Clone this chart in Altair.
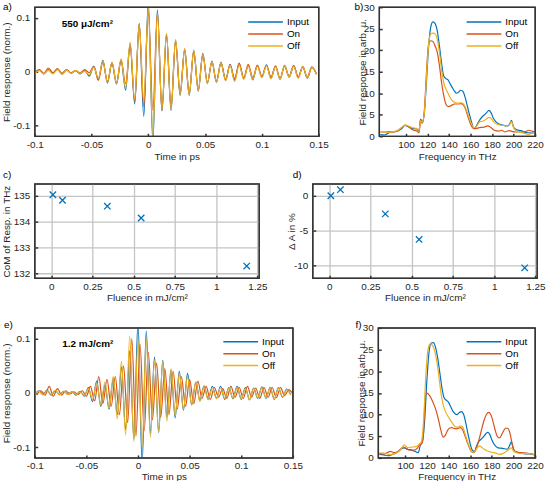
import altair as alt
import pandas as pd

FONT = "Liberation Sans"
FS = 10
INK = "#262626"
SERIES = ["Input", "On", "Off"]
COLORS = ["#0072BD", "#D95319", "#EDB120"]
LABEL_EXPR = "replace(format(datum.value, '~g'), '\u2212', '-')"

t_grid = [-0.100, -0.096, -0.092, -0.088, -0.084, -0.080, -0.076, -0.072, -0.068, -0.064,
          -0.060, -0.056, -0.052, -0.048, -0.044, -0.040, -0.036, -0.032, -0.028, -0.024,
          -0.020, -0.016, -0.012, -0.008, -0.004, 0.000, 0.004, 0.008, 0.012, 0.016,
          0.020, 0.024, 0.028, 0.032, 0.036, 0.040, 0.044, 0.048, 0.052, 0.056,
          0.060, 0.064, 0.068, 0.072, 0.076, 0.080, 0.084, 0.088, 0.092, 0.096,
          0.100, 0.104, 0.108, 0.112, 0.116, 0.120, 0.124, 0.128, 0.132, 0.136,
          0.140, 0.144, 0.148]
a_input = [-0.002, 0.003, -0.004, 0.004, -0.003, 0.005, -0.004, 0.003, -0.002, 0.002,
           -0.004, 0.002, -0.008, 0.010, -0.014, 0.021, -0.021, 0.017, -0.023, 0.021,
           -0.034, 0.052, -0.060, 0.090, -0.083, 0.130, -0.130, 0.115, -0.073, 0.070,
           -0.072, 0.059, -0.044, 0.042, -0.044, 0.040, -0.036, 0.034, -0.022, 0.020,
           -0.020, 0.018, -0.016, 0.014, -0.016, 0.015, -0.013, 0.012, -0.015, 0.012,
           -0.010, 0.013, -0.012, 0.010, -0.014, 0.012, -0.010, 0.011, -0.011, 0.010,
           -0.012, 0.008, -0.004]
a_on = [-0.002, 0.004, -0.003, 0.007, -0.002, 0.006, -0.003, 0.004, -0.003, 0.002,
        -0.002, 0.004, -0.002, 0.010, -0.016, 0.018, -0.018, 0.016, -0.020, 0.022,
        -0.022, 0.048, -0.055, 0.088, -0.065, 0.112, -0.072, 0.110, -0.072, 0.068,
        -0.066, 0.056, -0.040, 0.040, -0.041, 0.037, -0.033, 0.031, -0.020, 0.018,
        -0.017, 0.016, -0.014, 0.013, -0.013, 0.016, -0.012, 0.014, -0.011, 0.012,
        -0.009, 0.012, -0.010, 0.011, -0.012, 0.010, -0.009, 0.012, -0.010, 0.009,
        -0.010, 0.009, -0.004]
a_off = [-0.003, 0.002, -0.004, 0.003, -0.004, 0.004, -0.005, 0.003, -0.003, 0.002,
         -0.003, 0.001, -0.006, 0.008, -0.012, 0.020, -0.020, 0.018, -0.022, 0.024,
         -0.030, 0.055, -0.052, 0.088, -0.055, 0.118, -0.118, 0.108, -0.070, 0.072,
         -0.070, 0.060, -0.042, 0.043, -0.043, 0.040, -0.035, 0.033, -0.021, 0.019,
         -0.019, 0.017, -0.017, 0.012, -0.018, 0.013, -0.014, 0.011, -0.014, 0.010,
         -0.011, 0.011, -0.013, 0.009, -0.013, 0.011, -0.010, 0.010, -0.012, 0.010,
         -0.011, 0.008, -0.005]
t_on_e = [-0.098, -0.094, -0.090, -0.086, -0.082, -0.078, -0.074, -0.070, -0.066, -0.062,
          -0.058, -0.054, -0.050, -0.046, -0.042, -0.038, -0.034, -0.030, -0.026, -0.022,
          -0.018, -0.014, -0.010, -0.006, -0.002, 0.002, 0.006, 0.010, 0.014, 0.018,
          0.022, 0.026, 0.030, 0.034, 0.038, 0.042, 0.046, 0.050, 0.054, 0.058,
          0.062, 0.066, 0.070, 0.074, 0.078, 0.082, 0.086, 0.090, 0.094, 0.098,
          0.102, 0.106, 0.110, 0.114, 0.118, 0.122, 0.126, 0.130, 0.134, 0.138,
          0.142, 0.146, 0.150]
e_input = [-0.003, 0.004, -0.003, 0.005, -0.004, 0.004, -0.003, 0.003, -0.002, 0.002,
           -0.004, 0.003, -0.006, 0.010, -0.016, 0.022, -0.025, 0.015, -0.030, 0.026,
           -0.040, 0.048, -0.068, 0.078, -0.085, 0.130, -0.130, 0.114, -0.075, 0.066,
           -0.073, 0.060, -0.045, 0.042, -0.046, 0.040, -0.032, 0.036, -0.022, 0.020,
           -0.014, 0.013, -0.012, 0.012, -0.010, 0.012, -0.012, 0.010, -0.011, 0.012,
           -0.012, 0.010, -0.013, 0.009, -0.010, 0.011, -0.010, 0.010, -0.012, 0.010,
           -0.008, 0.007, -0.004]
e_on = [-0.003, 0.004, -0.004, 0.012, -0.006, 0.008, -0.004, 0.004, -0.002, 0.002,
        -0.003, 0.004, -0.006, 0.012, -0.015, 0.030, -0.020, 0.025, -0.025, 0.030,
        -0.040, 0.050, -0.055, 0.100, -0.080, 0.090, -0.070, 0.075, -0.050, 0.055,
        -0.045, 0.045, -0.040, 0.040, -0.030, 0.030, -0.025, 0.025, -0.020, 0.022,
        -0.010, 0.012, -0.012, 0.010, -0.008, 0.008, -0.010, 0.012, -0.008, 0.010,
        -0.010, 0.012, -0.008, 0.009, -0.010, 0.010, -0.008, 0.010, -0.009, 0.010,
        -0.005, 0.006, -0.002]
e_off = [-0.004, 0.003, -0.004, 0.004, -0.003, 0.005, -0.004, 0.003, -0.003, 0.002,
         -0.003, 0.002, -0.005, 0.008, -0.012, 0.018, -0.022, 0.020, -0.028, 0.030,
         -0.048, 0.058, -0.078, 0.105, -0.090, 0.098, -0.100, 0.100, -0.082, 0.060,
         -0.072, 0.058, -0.052, 0.045, -0.042, 0.036, -0.030, 0.030, -0.022, 0.020,
         -0.016, 0.012, -0.013, 0.010, -0.011, 0.010, -0.010, 0.009, -0.010, 0.010,
         -0.011, 0.008, -0.012, 0.008, -0.009, 0.010, -0.009, 0.009, -0.011, 0.009,
         -0.007, 0.006, -0.004]

b_in_f = [76, 80, 84, 88, 92, 96, 99, 102, 106, 110, 112, 113.5, 115, 117, 119, 121, 123, 125,
          127, 129, 131, 133, 135, 137, 139, 141, 143, 145, 147, 149, 151, 153, 155, 157, 159,
          161, 163, 165, 167, 169, 171, 173, 175, 177, 179, 181, 183, 186, 190, 194, 196, 198,
          200, 203, 207, 211, 215, 220]
b_in_v = [0.4, 0.3, 0.8, 1.0, 1.2, 1.8, 2.5, 2.2, 1.8, 1.7, 1.3, 4.0, 3.2, 5.5, 13, 21, 25.5, 26.6,
          26.2, 24.5, 21, 17, 14, 13.4, 13.1, 12.2, 11.3, 10.5, 10.0, 10.3, 10.7, 10.4, 9.0, 7.0,
          5.0, 3.2, 1.9, 2.2, 3.2, 4.0, 4.6, 5.0, 5.5, 6.0, 5.5, 4.3, 3.5, 2.9, 2.6, 2.4, 2.7, 3.7,
          2.1, 1.5, 1.3, 0.9, 0.8, 0.7]
b_on_f = [76, 80, 84, 88, 92, 96, 99, 102, 106, 110, 112, 113.5, 115, 117, 119, 121, 123, 125,
          127, 129, 131, 133, 135, 137, 139, 141, 143, 145, 147, 149, 151, 153, 155, 157, 159,
          161, 163, 165, 168, 172, 176, 178, 180, 183, 186, 189, 192, 196, 199, 203, 207, 211,
          214, 217, 220]
b_on_v = [1.0, 1.0, 1.1, 1.0, 1.3, 2.0, 2.6, 2.3, 1.5, 1.2, 0.8, 3.8, 3.0, 6, 15, 21.5, 22.2, 22.0,
          21.0, 19.5, 16.5, 12.5, 9.5, 7.5, 6.9, 7.0, 7.3, 7.5, 7.5, 7.5, 7.6, 7.4, 6.5, 5.0, 3.5,
          2.3, 1.8, 1.8, 2.0, 2.1, 2.4, 2.2, 1.8, 1.3, 1.2, 1.4, 1.0, 1.3, 1.1, 1.0, 1.0, 1.1,
          1.4, 1.2, 1.0]
b_off_f = [76, 80, 84, 88, 92, 96, 99, 102, 106, 110, 112, 113.5, 115, 117, 119, 121, 123, 125,
           127, 129, 131, 133, 135, 137, 139, 141, 143, 145, 147, 149, 151, 153, 155, 157, 159,
           161, 163, 165, 167, 169, 171, 173, 175, 177, 179, 181, 183, 186, 190, 194, 196, 198,
           200, 203, 207, 211, 214, 217, 220]
b_off_v = [1.0, 1.0, 0.9, 1.1, 1.3, 2.1, 2.6, 2.4, 2.0, 1.8, 1.4, 3.6, 3.3, 5.5, 14, 21.5, 23.8,
           24.0, 23.8, 22.5, 19.5, 15.5, 12.5, 11.0, 10.0, 9.0, 8.3, 7.9, 7.7, 7.7, 7.8, 7.6, 6.8,
           5.5, 4.0, 2.8, 2.0, 2.1, 2.9, 3.4, 3.5, 3.7, 4.1, 4.4, 4.2, 3.5, 3.0, 2.7, 2.5, 2.4,
           2.6, 3.4, 2.0, 1.2, 0.9, 0.6, 0.4, 0.7, 0.6]

f_in_f = [76, 80, 84, 88, 92, 96, 99, 102, 106, 110, 112, 114, 116, 118, 120, 122, 124, 126, 128,
          130, 132, 134, 136, 138, 140, 142, 144, 146, 148, 150, 152, 154, 156, 158, 160, 162,
          164, 166, 168, 170, 172, 174, 176, 178, 180, 182, 184, 186, 190, 194, 196, 198, 200,
          202, 206, 210, 215, 220]
f_in_v = [0.8, 0.7, 0.5, 0.8, 1.2, 2.0, 2.3, 2.0, 1.8, 1.4, 1.2, 3.0, 4.0, 9, 18, 24.5, 26.5, 26.6,
          25.5, 23, 19.5, 16, 13.8, 13.3, 12.8, 11.8, 10.8, 10.2, 10.0, 10.5, 10.7, 10.0, 8.0,
          5.5, 3.3, 1.8, 1.5, 2.8, 3.8, 4.3, 4.8, 5.4, 5.9, 5.5, 4.2, 3.2, 2.6, 2.3, 2.2, 2.0,
          2.6, 3.7, 2.0, 1.4, 1.2, 1.0, 0.9, 0.7]
f_on_f = [76, 80, 83, 86, 90, 94, 98, 101, 104, 108, 111, 113, 115, 116.5, 118, 119.5, 121, 123,
          125, 127, 129, 131, 133, 135, 137, 139, 141, 143, 145, 147, 149, 151, 153, 155, 157,
          159, 161, 163, 165, 167, 169, 171, 173, 175, 177, 179, 181, 183, 185, 187, 189, 191,
          193, 195, 197, 199, 201, 204, 208, 212, 216, 220]
f_on_v = [1.0, 0.9, 1.2, 1.5, 1.2, 1.6, 2.5, 2.2, 1.8, 1.8, 2.2, 3.0, 3.2, 4.5, 12, 15.0, 14.8,
          14.2, 13.2, 12.0, 10.5, 8.5, 6.3, 4.8, 5.2, 6.3, 6.9, 7.0, 6.8, 6.7, 6.8, 7.0, 6.5, 5.2,
          3.8, 2.5, 1.5, 1.2, 1.8, 3.2, 5.0, 7.0, 8.8, 10.0, 10.5, 10.0, 8.5, 6.5, 5.0, 4.6, 5.3,
          6.3, 6.9, 6.8, 5.5, 3.0, 1.6, 1.3, 1.2, 1.1, 1.0, 0.6]
f_off_f = [76, 80, 83, 86, 90, 94, 97, 99, 102, 106, 110, 113, 115, 117, 119, 121, 123, 125, 127,
           129, 131, 133, 135, 137, 139, 141, 143, 145, 147, 149, 151, 153, 155, 157, 159, 161,
           163, 165, 167, 169, 171, 173, 176, 180, 184, 187, 190, 193, 196, 198, 200, 203, 208,
           213, 217, 220]
f_off_v = [1.2, 1.1, 1.0, 0.7, 1.0, 1.5, 2.3, 3.0, 2.4, 2.5, 2.6, 3.2, 3.8, 9, 19, 25, 26.3, 26.0,
           24.8, 22.5, 19.0, 15.0, 12.3, 10.8, 9.8, 9.0, 8.2, 7.5, 7.1, 7.1, 7.4, 7.2, 5.8, 4.2,
           2.8, 1.6, 1.3, 1.7, 2.5, 2.8, 2.4, 2.0, 1.6, 1.3, 1.1, 0.8, 1.0, 1.4, 2.0, 2.3, 1.6,
           1.2, 1.0, 1.0, 0.9, 0.7]

fluence = [0.01, 0.068, 0.34, 0.545, 1.185]
com_thz = [135.03, 134.82, 134.59, 134.13, 132.27]
delta_a = [0.0, 0.87, -2.62, -6.3, -10.4]

TIME_TICKS = [-0.1, -0.05, 0, 0.05, 0.1, 0.15]
FIELD_TICKS = [-0.1, -0.05, 0, 0.05, 0.1]
FREQ_TICKS = [100, 120, 140, 160, 180, 200, 220]
SPEC_TICKS = [0, 5, 10, 15, 20, 25, 30]
FLU_TICKS = [0, 0.25, 0.5, 0.75, 1, 1.25]
XPATH = "M-1,-1L1,1M1,-1L-1,1"


def long_df(pairs):
    rows = []
    for name, xs, ys in pairs:
        for xv, yv in zip(xs, ys):
            rows.append({"x": xv, "y": yv, "series": name})
    return pd.DataFrame(rows)


def common_axis(**kw):
    base = dict(domain=False, ticks=True, tickSize=3, tickColor="#333333", tickWidth=1.5,
                offset=-3, labelFont=FONT, labelFontSize=FS, labelColor=INK, labelFlush=False,
                labelOverlap=False, labelExpr=LABEL_EXPR, titleFont=FONT, titleFontSize=FS,
                titleFontWeight="normal", titleColor=INK, titleBaseline="middle",
                gridColor="#c4c4c4", gridWidth=1.3)
    base.update(kw)
    return alt.Axis(**base)


def x_axis(title, values, title_y, grid=False):
    return common_axis(title=title, values=values, grid=grid, labelPadding=3, titleY=title_y)


def y_axis(title, values, title_x, grid=False):
    return common_axis(title=title, values=values, grid=grid, labelPadding=5, titleX=title_x)


def legend(lx, ly):
    return alt.Legend(title=None, orient="none", legendX=lx, legendY=ly, symbolType="stroke",
                      symbolSize=1225, symbolStrokeWidth=1.5, labelFont=FONT, labelFontSize=FS,
                      labelColor="#000000", labelOffset=3, clipHeight=11.5, rowPadding=0,
                      padding=0, offset=0)


def panel_label(text, dx, dy):
    return alt.Chart(pd.DataFrame({"lab": [text]})).mark_text(
        font=FONT, fontSize=FS, align="left", baseline="middle", color="#000000"
    ).encode(text="lab:N", x=alt.value(dx), y=alt.value(dy))


def frame(w, h):
    return alt.Chart(pd.DataFrame({"k": [0]})).mark_rect(
        fillOpacity=0, stroke="#333333", strokeWidth=1.3
    ).encode(x=alt.value(0), x2=alt.value(w), y=alt.value(0), y2=alt.value(h))


def color_enc(lx, ly):
    return alt.Color("series:N", scale=alt.Scale(domain=SERIES, range=COLORS),
                     legend=legend(lx, ly))


def trace_panel(df, note, width, height, lab, lab_xy, leg_xy, title_x, title_y):
    xs = alt.Scale(domain=[-0.1, 0.15], nice=False, zero=False)
    ys = alt.Scale(domain=[-0.12, 0.12], nice=False, zero=False)
    lines = alt.Chart(df).mark_line(clip=True, strokeWidth=1.2, interpolate="monotone").encode(
        x=alt.X("x:Q", scale=xs, axis=x_axis("Time in ps", TIME_TICKS, title_y)),
        y=alt.Y("y:Q", scale=ys, axis=y_axis("Field response (norm.)", FIELD_TICKS, title_x)),
        color=color_enc(*leg_xy),
    )
    txt = alt.Chart(note).mark_text(font=FONT, fontSize=FS, fontWeight="bold", align="center",
                                    baseline="middle", color="#000000").encode(
        x="x:Q", y="y:Q", text="txt:N")
    return alt.layer(lines, txt, frame(width, height), panel_label(lab, *lab_xy)).properties(
        width=width, height=height)


def spec_panel(df, width, height, lab, lab_xy, leg_xy, title_x, title_y):
    xs = alt.Scale(domain=[75, 220], nice=False, zero=False)
    ys = alt.Scale(domain=[0, 30], nice=False, zero=False)
    lines = alt.Chart(df).mark_line(clip=True, strokeWidth=1.2, interpolate="monotone").encode(
        x=alt.X("x:Q", scale=xs, axis=x_axis("Frequency in THz", FREQ_TICKS, title_y)),
        y=alt.Y("y:Q", scale=ys, axis=y_axis("Field response in arb. u.", SPEC_TICKS, title_x)),
        color=color_enc(*leg_xy),
    )
    return alt.layer(lines, frame(width, height), panel_label(lab, *lab_xy)).properties(
        width=width, height=height)


def scatter_panel(df, ydom, yticks, ytitle, width, height, lab, lab_xy, title_x, title_y):
    xs = alt.Scale(domain=[-0.1, 1.26], nice=False, zero=False)
    ys = alt.Scale(domain=ydom, nice=False, zero=False)
    pts = alt.Chart(df).mark_point(shape=XPATH, size=42, filled=False, strokeWidth=1.3,
                                   color="#0072BD", opacity=1).encode(
        x=alt.X("x:Q", scale=xs,
                axis=x_axis("Fluence in mJ/cm\u00b2", FLU_TICKS, title_y, grid=True)),
        y=alt.Y("y:Q", scale=ys, axis=y_axis(ytitle, yticks, title_x, grid=True)),
    )
    return alt.layer(pts, frame(width, height), panel_label(lab, *lab_xy)).properties(
        width=width, height=height)


df_a = long_df([("Input", t_grid, a_input), ("On", t_grid, a_on), ("Off", t_grid, a_off)])
df_e = long_df([("Input", t_grid, e_input), ("On", t_on_e, e_on), ("Off", t_grid, e_off)])
df_b = long_df([("Input", b_in_f, b_in_v), ("On", b_on_f, b_on_v), ("Off", b_off_f, b_off_v)])
df_f = long_df([("Input", f_in_f, f_in_v), ("On", f_on_f, f_on_v), ("Off", f_off_f, f_off_v)])
df_c = pd.DataFrame({"x": fluence, "y": com_thz})
df_d = pd.DataFrame({"x": fluence, "y": delta_a})
note_a = pd.DataFrame({"x": [-0.0537], "y": [0.0886], "txt": ["550 \u03bcJ/cm\u00b2"]})
note_e = pd.DataFrame({"x": [-0.0486], "y": [0.0907], "txt": ["1.2 mJ/cm\u00b2"]})

pa = trace_panel(df_a, note_a, 286, 130, "a)", (-32, -0.5), (214, 9.25), -31.8, 23.5)
pb = spec_panel(df_b, 157, 130, "b)", (-25, -0.5), (87, 9.25), -20, 23.5)
pc = scatter_panel(df_c, [131.8, 135.45], [132, 133, 134, 135], "CoM of Resp. in THz",
                   226, 95, "c)", (-32, -8.5), -31.2, 22)
pd_ = scatter_panel(df_d, [-11.9, 1.7], [-10, -5, 0], "\u0394 A in %",
                    226, 95, "d)", (-20, -8.5), -24.5, 22)
pe = trace_panel(df_e, note_e, 260, 131, "e)", (-31, -3), (189, 8.25), -31.8, 21.5)
pf = spec_panel(df_f, 158, 131, "f)", (-23, -3), (88, 8.25), -20, 21.5)

row1 = alt.hconcat(pa, pb, spacing=61, bounds="flush").resolve_scale(color="independent")
row2 = alt.hconcat(pc, pd_, spacing=54, bounds="flush").resolve_scale(color="independent")
row3 = alt.hconcat(pe, pf, spacing=86, bounds="flush").resolve_scale(color="independent")

top = alt.vconcat(row1, row2, spacing=6).resolve_scale(color="independent")
chart = alt.vconcat(top, row3, spacing=16).resolve_scale(color="independent").configure_view(
    stroke="#333333", strokeWidth=1.3
).properties(
    padding={"left": 0, "top": -1.5, "right": 0, "bottom": 0},
)

chart.save("out.html", embed_options={"renderer": "svg", "actions": False})
